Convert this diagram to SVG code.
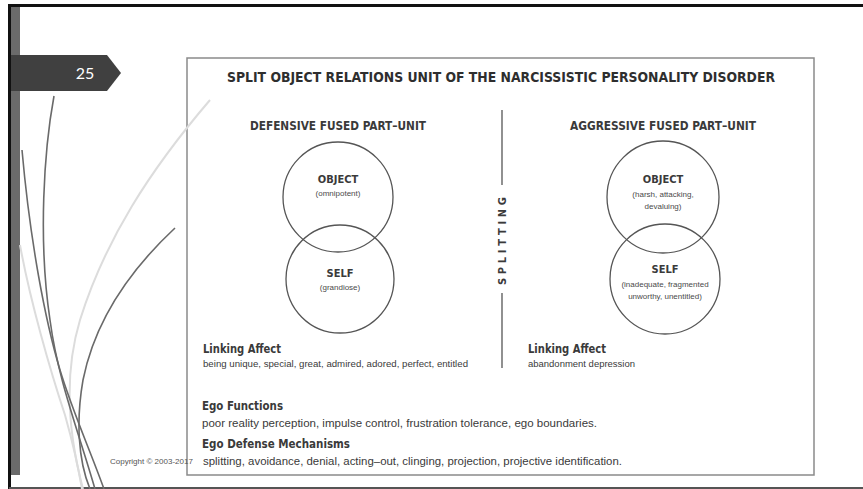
<svg xmlns="http://www.w3.org/2000/svg" width="863" height="489" viewBox="0 0 863 489">
  <style>
    .head { font-family: "DejaVu Sans Condensed", "Liberation Sans", Arial, sans-serif; font-weight: bold; fill: #2e2e2e; }
    .sub { font-family: "DejaVu Sans Condensed", "Liberation Sans", Arial, sans-serif; font-weight: bold; fill: #3a3a3a; }
    .body { font-family: "Liberation Sans", Arial, sans-serif; fill: #3a3a3a; }
    .small { font-family: "Liberation Sans", Arial, sans-serif; fill: #4a4a4a; font-size: 8px; text-anchor: middle; }
    .lbl { font-family: "DejaVu Sans Condensed", "Liberation Sans", Arial, sans-serif; font-weight: bold; fill: #3a3a3a; font-size: 11px; text-anchor: middle; }
    .ring { fill: none; stroke: #555; stroke-width: 1.3; }
    .dark { fill: none; stroke: #6a6a6a; stroke-width: 1.6; }
    .light { fill: none; stroke: #dcdcdc; stroke-width: 2; }
  </style>

  <rect width="863" height="489" fill="#ffffff"/>

  <!-- slide frame -->
  <g id="slide-frame">
    <rect x="8" y="4" width="855" height="3" fill="#111"/>
    <rect x="8" y="4" width="3" height="485" fill="#111"/>
    <rect x="11" y="7" width="9" height="468" fill="#6b6b6b"/>
    <rect x="9" y="487" width="854" height="2" fill="#555"/>
  </g>

  <!-- slide number tag -->
  <g id="slide-number">
    <polygon points="11,55 107,55 121,73 107,91 11,91" fill="#404040"/>
    <text x="85" y="79" font-family="Lato, 'Open Sans', sans-serif" font-size="16" fill="#ffffff" text-anchor="middle">25</text>
  </g>

  <!-- figure border -->
  <rect id="figure-box" x="187" y="58" width="627" height="417" fill="none" stroke="#8a8a8a" stroke-width="1.5"/>

  <!-- decorative sweeping curves -->
  <g id="decor">
    <path class="light" d="M210,100 C150,170 105,240 80,320 C62,380 70,440 83,489"/>
    <path class="light" d="M20,245 C30,300 50,370 65,415 C72,440 78,465 82,489"/>
    <path class="dark" d="M54,96 C44,150 38,240 50,320 C58,380 78,430 95,489"/>
    <path class="dark" d="M22,150 C30,240 45,320 60,370 C72,410 90,450 104,489"/>
    <path class="dark" stroke-width="1.1" d="M175,228 C130,270 95,320 83,380 C76,420 78,460 90,489"/>
  </g>

  <!-- copyright footer -->
  <text id="copyright" x="110" y="464" font-family="'Liberation Sans', Arial, sans-serif" font-size="8" fill="#555">Copyright © 2003-2017</text>

  <!-- title -->
  <g id="title">
    <text class="head" x="227" y="82" font-size="14.5" textLength="548" lengthAdjust="spacingAndGlyphs">SPLIT OBJECT RELATIONS UNIT OF THE NARCISSISTIC PERSONALITY DISORDER</text>
  </g>

  <!-- defensive fused part-unit -->
  <g id="defensive-unit">
    <text class="sub" x="250" y="130" font-size="12.5" textLength="176" lengthAdjust="spacingAndGlyphs">DEFENSIVE FUSED PART–UNIT</text>
  </g>
  <g id="defensive-object">
    <circle class="ring" cx="338" cy="197" r="55"/>
    <text class="lbl" x="338" y="183">OBJECT</text>
    <text class="small" x="338" y="196">(omnipotent)</text>
  </g>
  <g id="defensive-self">
    <circle class="ring" cx="340" cy="279" r="54"/>
    <text class="lbl" x="340" y="277">SELF</text>
    <text class="small" x="340" y="290">(grandiose)</text>
  </g>
  <g id="defensive-affect">
    <text class="sub" x="203" y="353" font-size="12" textLength="78" lengthAdjust="spacingAndGlyphs">Linking Affect</text>
    <text class="body" x="203" y="367" font-size="9.5" textLength="265" lengthAdjust="spacingAndGlyphs">being unique, special, great, admired, adored, perfect, entitled</text>
  </g>

  <!-- aggressive fused part-unit -->
  <g id="aggressive-unit">
    <text class="sub" x="570" y="130" font-size="12.5" textLength="186" lengthAdjust="spacingAndGlyphs">AGGRESSIVE FUSED PART–UNIT</text>
  </g>
  <g id="aggressive-object">
    <circle class="ring" cx="663" cy="197" r="56"/>
    <text class="lbl" x="663" y="183">OBJECT</text>
    <text class="small" x="663" y="197">(harsh, attacking,</text>
    <text class="small" x="663" y="209">devaluing)</text>
  </g>
  <g id="aggressive-self">
    <circle class="ring" cx="665" cy="279" r="55"/>
    <text class="lbl" x="665" y="273">SELF</text>
    <text class="small" x="665" y="287">(inadequate, fragmented</text>
    <text class="small" x="665" y="299">unworthy, unentitled)</text>
  </g>
  <g id="aggressive-affect">
    <text class="sub" x="528" y="353" font-size="12" textLength="78" lengthAdjust="spacingAndGlyphs">Linking Affect</text>
    <text class="body" x="528" y="367" font-size="9.5" textLength="107" lengthAdjust="spacingAndGlyphs">abandonment depression</text>
  </g>

  <!-- splitting divider -->
  <g id="connectors">
    <line x1="502" y1="110" x2="502" y2="185" stroke="#555" stroke-width="1.3"/>
    <line x1="502" y1="293" x2="502" y2="368" stroke="#555" stroke-width="1.3"/>
  </g>
  <g id="splitting">
    <text class="sub" transform="translate(506,241) rotate(-90)" x="0" y="0" font-size="11" text-anchor="middle" textLength="88" lengthAdjust="spacing">SPLITTING</text>
  </g>

  <!-- ego functions -->
  <g id="ego-functions">
    <text class="sub" x="202" y="410" font-size="12" textLength="81" lengthAdjust="spacingAndGlyphs">Ego Functions</text>
    <text class="body" x="202" y="427" font-size="10" textLength="395" lengthAdjust="spacingAndGlyphs">poor reality perception, impulse control, frustration tolerance, ego boundaries.</text>
  </g>
  <g id="ego-defenses">
    <text class="sub" x="202" y="448" font-size="12" textLength="148" lengthAdjust="spacingAndGlyphs">Ego Defense Mechanisms</text>
    <text class="body" x="203" y="465" font-size="10" textLength="419" lengthAdjust="spacingAndGlyphs">splitting, avoidance, denial, acting–out, clinging, projection, projective identification.</text>
  </g>
</svg>
